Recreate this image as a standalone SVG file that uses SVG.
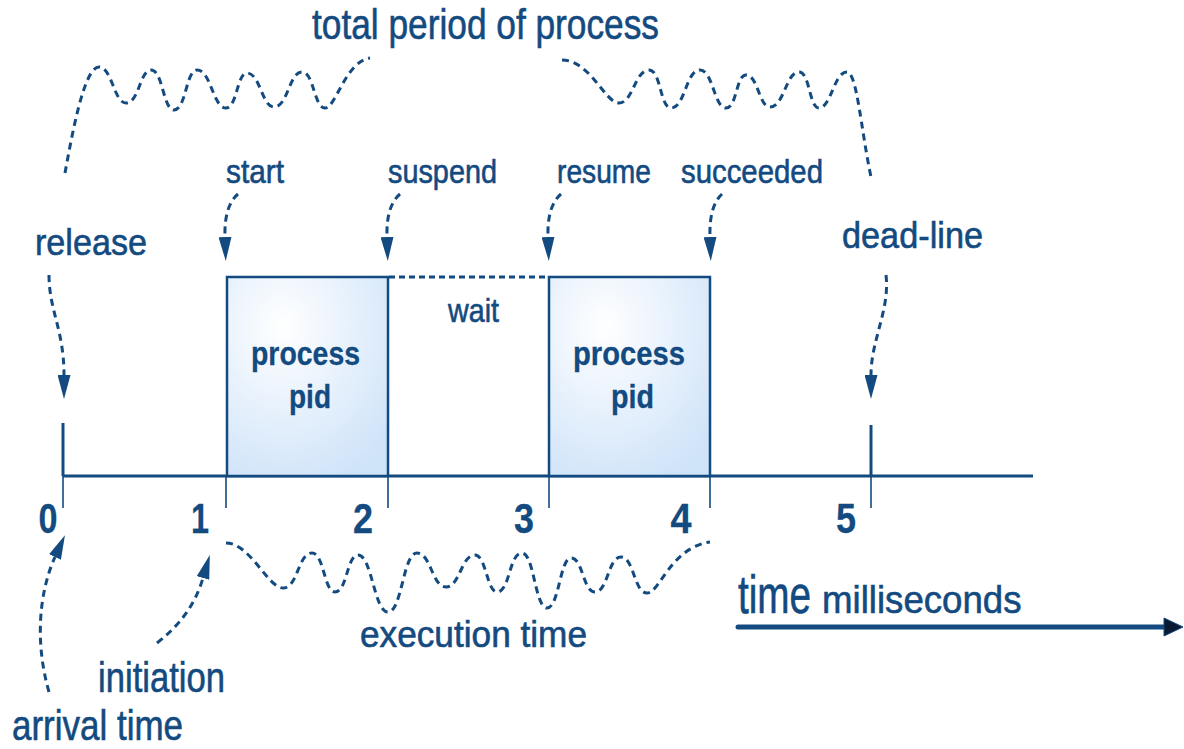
<svg xmlns="http://www.w3.org/2000/svg" width="1184" height="749" viewBox="0 0 1184 749">
  <style>
    .lbl { font-family: "Liberation Sans", Arial, sans-serif; fill: #134a80; stroke: #134a80; stroke-width: 0.6; }
    .bold { font-weight: bold; stroke-width: 0.3; }
    .dash { fill: none; stroke: #134a80; stroke-width: 3; stroke-dasharray: 7 5; stroke-linecap: butt; }
    .solid { fill: none; stroke: #134a80; stroke-width: 3; }
    .thin { fill: none; stroke: #134a80; stroke-width: 1.6; }
    .box { fill: url(#boxFill); stroke: #134a80; stroke-width: 2.5; }
  </style>
  <defs>
    <radialGradient id="boxFill" cx="0.35" cy="0.25" r="0.85">
      <stop offset="0" stop-color="#ffffff"/>
      <stop offset="1" stop-color="#cfe3f9"/>
    </radialGradient>
    <marker id="head" viewBox="0 0 24 13" refX="0" refY="6.5" markerWidth="24" markerHeight="13" markerUnits="userSpaceOnUse" orient="auto">
      <path d="M0,0 L24,6.5 L0,13 z" fill="#134a80"/>
    </marker>
  </defs>

  <rect width="1184" height="749" fill="#ffffff"/>

  <!-- time axis with tick marks -->
  <g id="axis">
    <line class="solid" x1="63" y1="476" x2="1033" y2="476"/>
    <line class="solid" x1="63" y1="423" x2="63" y2="476" stroke-width="4.5"/>
    <line class="solid" x1="871" y1="425" x2="871" y2="476" stroke-width="4.5"/>
    <line class="thin" x1="63" y1="476" x2="63" y2="508"/>
    <line class="thin" x1="226" y1="476" x2="226" y2="508"/>
    <line class="thin" x1="388" y1="476" x2="388" y2="508"/>
    <line class="thin" x1="549" y1="476" x2="549" y2="508"/>
    <line class="thin" x1="710" y1="476" x2="710" y2="508"/>
    <line class="thin" x1="871" y1="476" x2="871" y2="508"/>
  </g>

  <!-- first run of the process -->
  <g id="run1">
    <rect class="box" x="227" y="277" width="161" height="199"/>
    <text class="lbl bold" x="251" y="365" font-size="34" textLength="109" lengthAdjust="spacingAndGlyphs">process</text>
    <text class="lbl bold" x="289" y="408" font-size="34" textLength="42" lengthAdjust="spacingAndGlyphs">pid</text>
  </g>

  <!-- waiting interval -->
  <g id="wait">
    <line x1="389" y1="277" x2="548" y2="277" stroke="#134a80" stroke-width="3" stroke-dasharray="6 4"/>
    <text class="lbl" x="448" y="322" font-size="33" textLength="51" lengthAdjust="spacingAndGlyphs">wait</text>
  </g>

  <!-- second run of the process -->
  <g id="run2">
    <rect class="box" x="549" y="277" width="161" height="199"/>
    <text class="lbl bold" x="573" y="365" font-size="34" textLength="112" lengthAdjust="spacingAndGlyphs">process</text>
    <text class="lbl bold" x="611" y="408" font-size="34" textLength="43" lengthAdjust="spacingAndGlyphs">pid</text>
  </g>

  <!-- tick numbers -->
  <g id="numbers" class="lbl bold" font-size="43" text-anchor="middle">
    <text x="48" y="533" textLength="19" lengthAdjust="spacingAndGlyphs">0</text>
    <text x="200" y="533" textLength="18" lengthAdjust="spacingAndGlyphs">1</text>
    <text x="363" y="533" textLength="20" lengthAdjust="spacingAndGlyphs">2</text>
    <text x="524" y="533" textLength="20" lengthAdjust="spacingAndGlyphs">3</text>
    <text x="681" y="533" textLength="21" lengthAdjust="spacingAndGlyphs">4</text>
    <text x="846" y="533" textLength="20" lengthAdjust="spacingAndGlyphs">5</text>
  </g>

  <!-- event labels -->
  <g id="labels" class="lbl">
    <text x="312" y="39" font-size="43" textLength="347" lengthAdjust="spacingAndGlyphs">total period of process</text>
    <text x="226" y="183" font-size="33" textLength="58" lengthAdjust="spacingAndGlyphs">start</text>
    <text x="388" y="183" font-size="33" textLength="109" lengthAdjust="spacingAndGlyphs">suspend</text>
    <text x="557" y="183" font-size="33" textLength="94" lengthAdjust="spacingAndGlyphs">resume</text>
    <text x="681" y="183" font-size="33" textLength="142" lengthAdjust="spacingAndGlyphs">succeeded</text>
    <text x="35" y="255" font-size="37" textLength="112" lengthAdjust="spacingAndGlyphs">release</text>
    <text x="842" y="248" font-size="37" textLength="141" lengthAdjust="spacingAndGlyphs">dead-line</text>
    <text x="360" y="647" font-size="36" textLength="227" lengthAdjust="spacingAndGlyphs">execution time</text>
    <text x="98" y="692" font-size="42" textLength="127" lengthAdjust="spacingAndGlyphs">initiation</text>
    <text x="12" y="740" font-size="42" textLength="171" lengthAdjust="spacingAndGlyphs">arrival time</text>
    <text transform="translate(738,613) scale(0.73,1)" font-size="53">time</text>
    <text transform="translate(822,613) scale(0.94,1)" font-size="39">milliseconds</text>
  </g>

  <!-- time direction arrow -->
  <g id="time-arrow">
    <line x1="738" y1="627" x2="1166" y2="627" stroke="#134a80" stroke-width="5" stroke-linecap="round"/>
    <path d="M1164,618 L1183,627 L1164,636 z" fill="#0b1a33" stroke="#134a80" stroke-width="1"/>
  </g>

  <!-- dashed connectors -->
  <g id="connectors">
    <!-- total period brace, left half -->
    <path class="dash" d="M65,173 C72,135 84,67 99,67 C112,67 114,103 126,103 C139,103 140,70 151,70 C163,70 163,110 174,110 C186,110 186,70 197,70 C211,70 213,108 226,108 C237,108 237,73 247,73 C260,73 262,107 274,107 C288,107 289,72 302,72 C314,72 314,108 325,108 C336,108 345,62 370,58"/>
    <!-- total period brace, right half -->
    <path class="dash" d="M562,60 C590,60 605,103 619,103 C633,103 635,70 649,70 C661,70 660,108 671,108 C685,108 686,70 700,70 C713,70 714,108 726,108 C737,108 736,75 746,75 C758,75 759,107 770,107 C784,107 786,72 799,72 C810,72 809,108 819,108 C831,108 834,72 847,72 C857,72 861,130 871,177"/>
    <!-- execution time brace -->
    <path class="dash" d="M226,543 C250,543 268,588 283,588 C298,588 298,553 312,553 C324,553 324,592 335,592 C347,592 347,555 358,555 C372,555 374,612 388,612 C402,612 403,553 417,553 C431,553 432,587 446,587 C460,587 461,555 475,555 C486,555 487,592 497,592 C510,592 509,553 522,553 C534,553 535,608 547,608 C559,608 560,558 571,558 C583,558 583,592 595,592 C608,592 608,557 621,557 C634,557 634,593 647,593 C660,593 670,548 710,542"/>
    <!-- event arrows -->
    <path class="dash" d="M238,194 Q224,206 225,237" marker-end="url(#head)"/>
    <path class="dash" d="M400,194 Q386,206 387,237" marker-end="url(#head)"/>
    <path class="dash" d="M561,194 Q547,206 548,237" marker-end="url(#head)"/>
    <path class="dash" d="M722,194 Q709,206 710,237" marker-end="url(#head)"/>
    <path class="dash" d="M49,275 C49,310 64,330 64,375" marker-end="url(#head)"/>
    <path class="dash" d="M886,275 C890,310 871,340 871,375" marker-end="url(#head)"/>
    <path class="dash" d="M49,692 C34,640 40,590 55,557" marker-end="url(#head)"/>
    <path class="dash" d="M157,643 C180,625 195,605 203,578" marker-end="url(#head)"/>
  </g>
</svg>
